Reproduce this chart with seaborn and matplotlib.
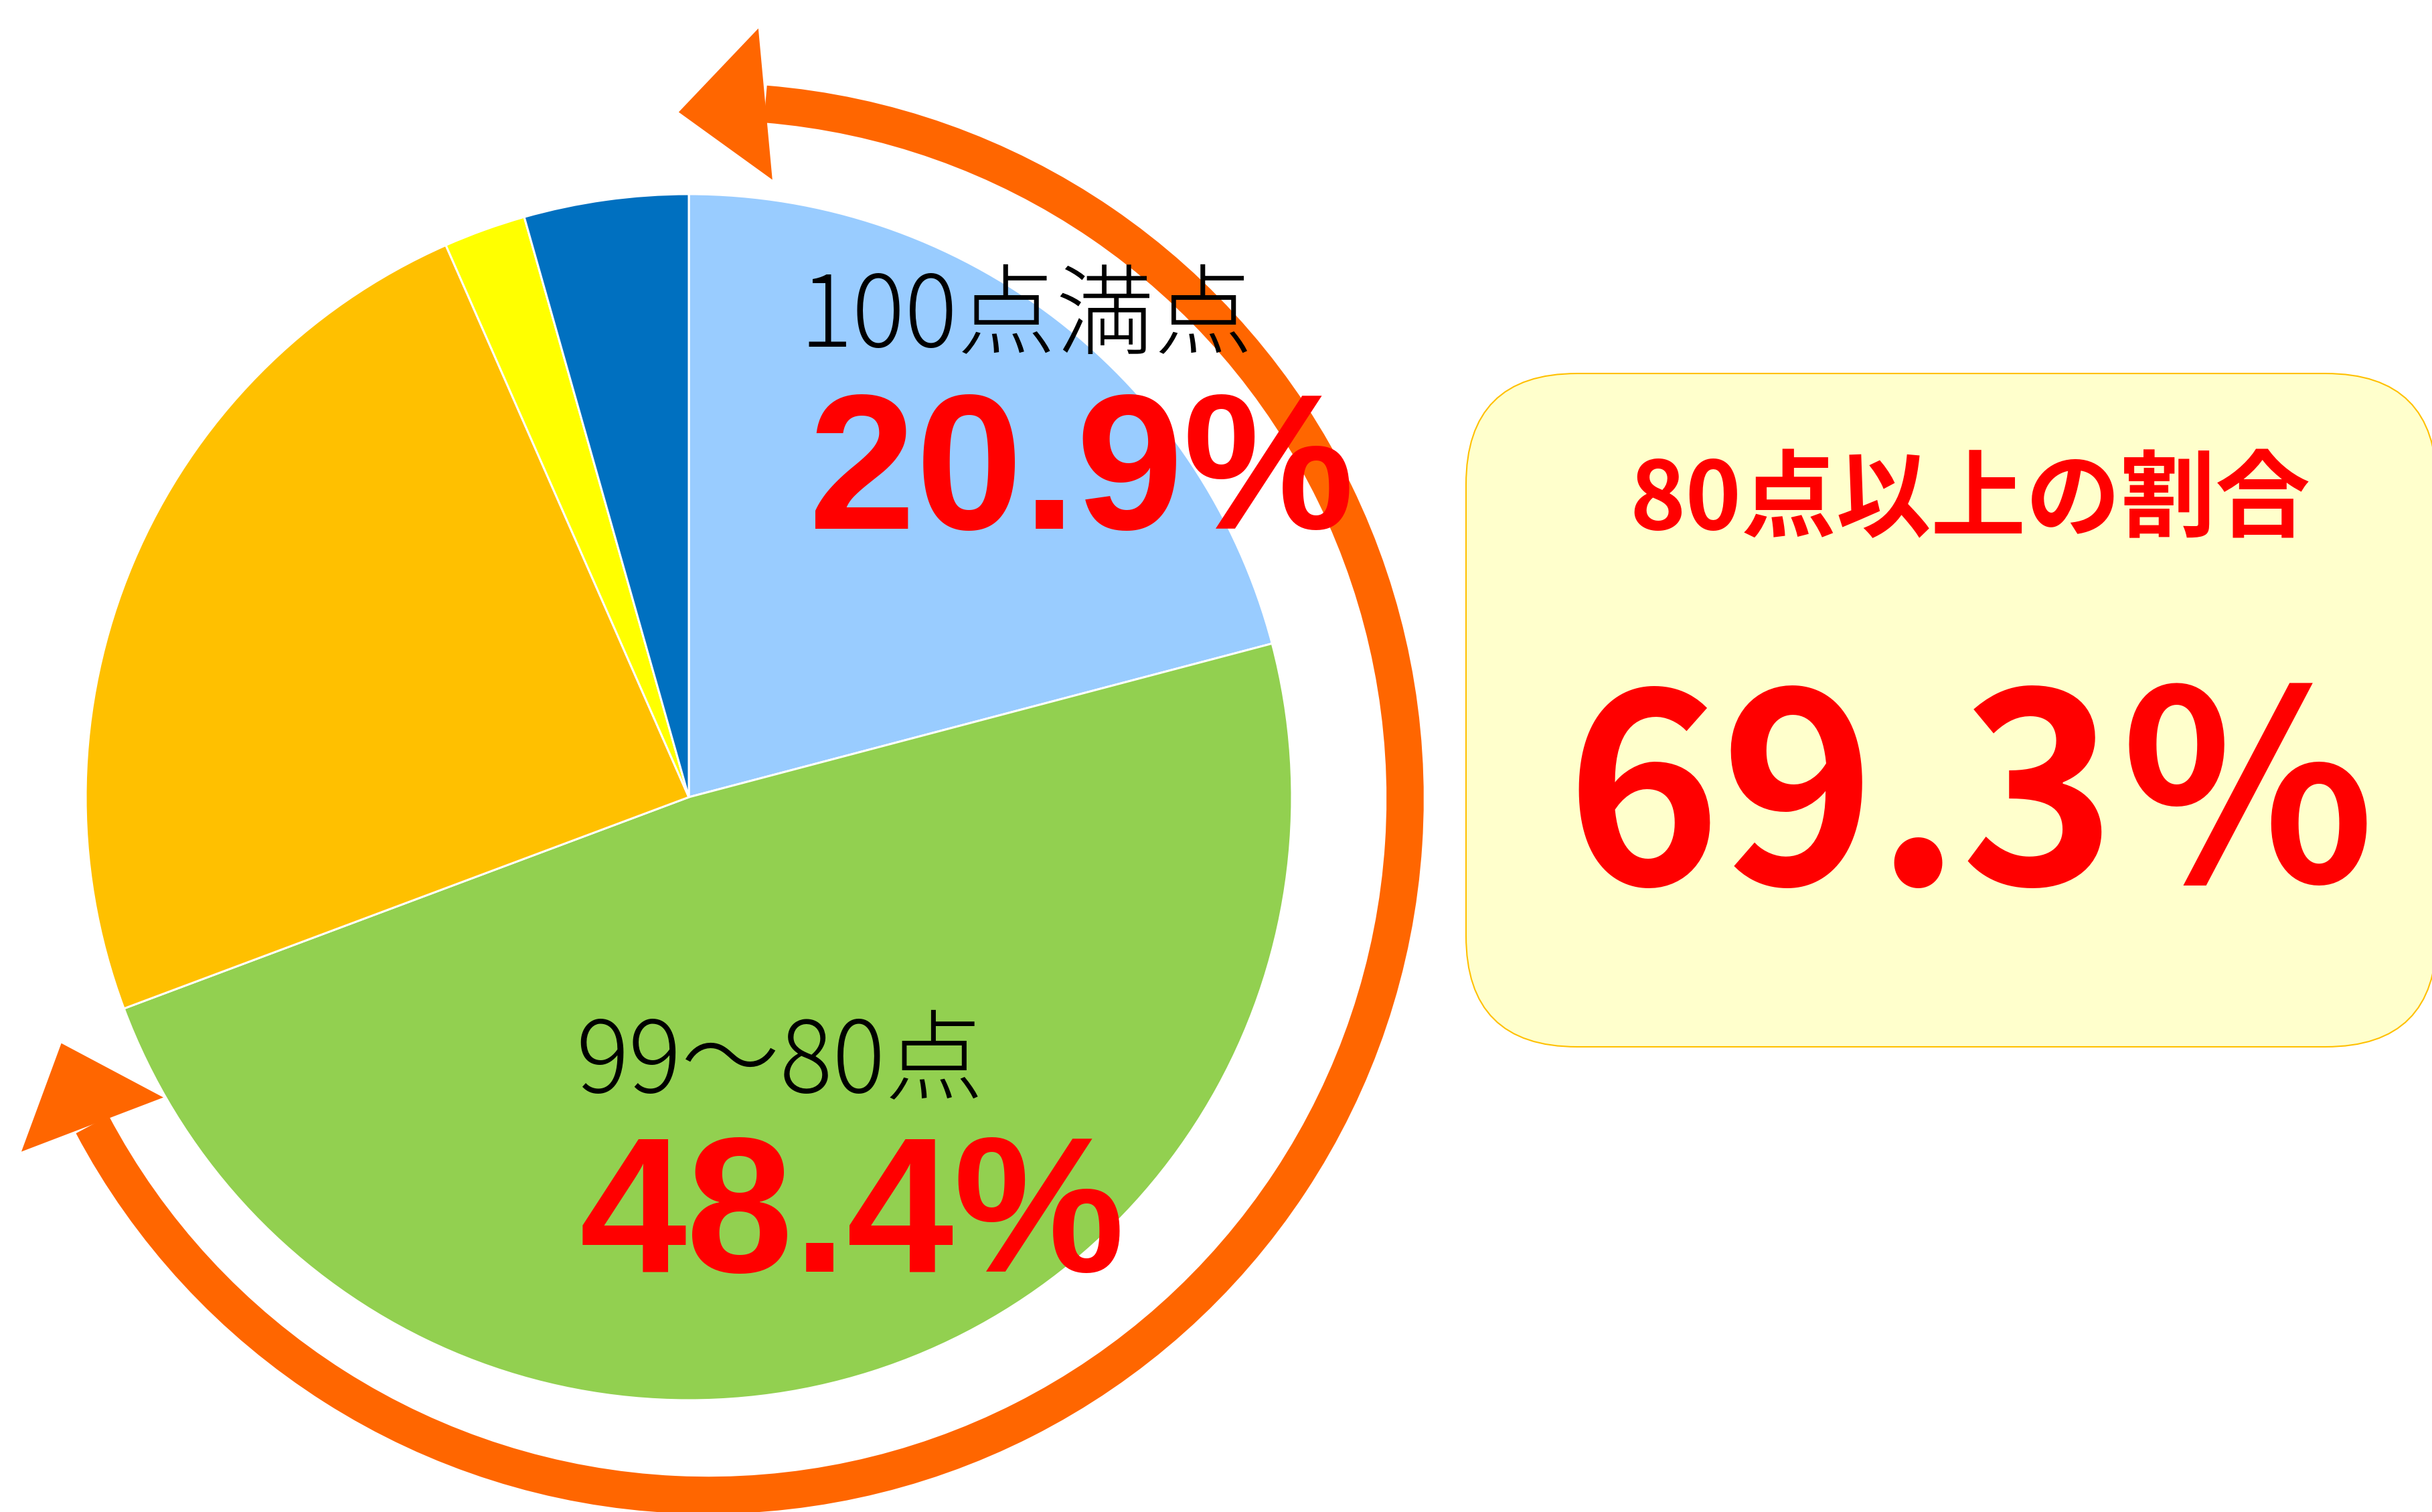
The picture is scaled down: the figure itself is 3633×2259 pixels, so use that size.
import numpy as np
import matplotlib
matplotlib.use("Agg")
import matplotlib.pyplot as plt
from matplotlib.patches import Arc, Polygon, FancyBboxPatch
import seaborn as sns

# share of each score band, clockwise from 12 o'clock
shares = [20.9, 48.4, 24.1, 2.2, 4.4]
slice_colors = ["#99CCFF", "#92D050", "#FFC000", "#FFFF00", "#0070C0"]

label_names = ["100点満点", "99～80点"]
label_pcts = ["20.9%", "48.4%"]
summary_title = "80点以上の割合"
summary_value = shares[0] + shares[1]

sns.set_theme(style="white")
plt.rcParams["font.family"] = ["Noto Sans CJK JP", "DejaVu Sans"]

W, H = 3633, 2259
fig = plt.figure(figsize=(W / 100, H / 100), dpi=100)
ax = fig.add_axes([0, 0, 1, 1])

pie_c = (1029, 1068)
ax.pie(shares, colors=slice_colors, startangle=90, counterclock=False,
       center=pie_c, radius=901,
       wedgeprops=dict(edgecolor="white", linewidth=2.2))

# orange double-headed arc around the pie
arc_c = (1058, 1066)
arc_r = 1041
a_top, a_low = 85.3, -152.1
orange = "#FF6600"
ax.add_patch(Arc(arc_c, 2 * arc_r, 2 * arc_r, theta1=a_low, theta2=a_top,
                 color=orange, lw=40, capstyle="butt", zorder=3))


def head(angle, sign, tilt, length=130, width=227):
    t = np.deg2rad(angle)
    base = np.array([arc_c[0] + arc_r * np.cos(t), arc_c[1] + arc_r * np.sin(t)])
    d = np.arctan2(sign * np.cos(t), -sign * np.sin(t)) + np.deg2rad(tilt)
    tang = np.array([np.cos(d), np.sin(d)])
    perp = np.array([-tang[1], tang[0]])
    pts = [base + perp * width / 2, base + tang * length, base - perp * width / 2]
    ax.add_patch(Polygon(pts, closed=True, color=orange, lw=0, zorder=3))


head(a_top, 1, 10)
head(a_low, -1, -7)

# labels on the slices
num_font = ["Liberation Sans Narrow", "Liberation Sans", "DejaVu Sans"]
ax.text(1194, 1741, label_names[0], fontsize=106, fontweight="light",
        color="black", ha="left", va="baseline", zorder=5)
ax.text(1208, 1469, label_pcts[0], fontsize=207, fontweight="bold",
        family=num_font, color="#FF0000", ha="left", va="baseline", zorder=5)
ax.text(860, 628, label_names[1], fontsize=106, fontweight="light",
        color="black", ha="left", va="baseline", zorder=5)
ax.text(866, 359, label_pcts[1], fontsize=207, fontweight="bold",
        family=num_font, color="#FF0000", ha="left", va="baseline", zorder=5)

# summary box
ax.add_patch(FancyBboxPatch((2190, 695), 1450, 1006,
                            boxstyle="round,pad=0,rounding_size=166",
                            facecolor="#FFFFCC", edgecolor="#FFC000",
                            lw=1.5, zorder=2))
ax.text(2943, 1468, summary_title, fontsize=102, fontweight="bold",
        color="#FF0000", ha="center", va="baseline", zorder=5)
ax.text(2946, 938, f"{summary_value:.1f}％", fontsize=283, fontweight="bold",
        color="#FF0000", ha="center", va="baseline", zorder=5)

ax.set_xlim(0, W)
ax.set_ylim(0, H)
ax.set_aspect("equal")
ax.axis("off")

fig.savefig("out.png", dpi=100, facecolor="white")
